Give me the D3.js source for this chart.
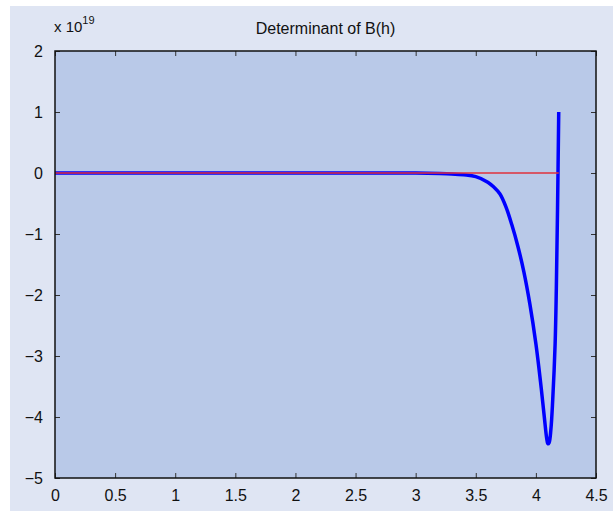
<!DOCTYPE html>
<html>
<head>
<meta charset="utf-8">
<script src="https://cdn.jsdelivr.net/npm/d3@7"></script>
<style>
  body { margin: 0; background: #ffffff; }
  svg { display: block; font-family: "Liberation Sans", Arial, sans-serif; }
</style>
</head>
<body>
<div id="chart"></div>
<script>
// determinant of B(h), values in units of 1e19
var hValues = [0, 0.5, 1.0, 1.5, 2.0, 2.5, 3.0, 3.2, 3.3, 3.4, 3.5, 3.6, 3.65, 3.7, 3.75, 3.8,
               3.85, 3.9, 3.95, 4.0, 4.04, 4.07, 4.09, 4.10, 4.11, 4.125, 4.14, 4.16, 4.17, 4.18, 4.19];
var detValues = [0, 0, 0, 0, 0, 0, -0.002, -0.008, -0.015, -0.03, -0.06, -0.15, -0.23, -0.34, -0.55, -0.85,
                 -1.2, -1.62, -2.15, -2.8, -3.45, -4.0, -4.35, -4.44, -4.42, -4.2, -3.72, -2.8, -1.9, -0.6, 1.0];
var zeroLine = [[0, 0], [4.19, 0]];

var xTicks = [0, 0.5, 1, 1.5, 2, 2.5, 3, 3.5, 4, 4.5];
var yTicks = [-5, -4, -3, -2, -1, 0, 1, 2];
var title = "Determinant of B(h)";

var width = 613, height = 511;
var margin = {top: 51, right: 17, bottom: 33, left: 55};

var svg = d3.select("#chart").append("svg")
    .attr("width", width)
    .attr("height", height);

// figure background
svg.append("rect")
    .attr("x", 10).attr("y", 6)
    .attr("width", width - 10).attr("height", height - 6)
    .attr("fill", "#dfe5f3");

var x = d3.scaleLinear().domain([0, 4.5]).range([margin.left, width - margin.right]);
var y = d3.scaleLinear().domain([-5, 2]).range([height - margin.bottom, margin.top]);

svg.append("rect")
    .attr("x", x(0)).attr("y", y(2))
    .attr("width", x(4.5) - x(0)).attr("height", y(-5) - y(2))
    .attr("fill", "#b9c9e8");

var fmt = function(d) { return d < 0 ? "\u2212" + Math.abs(d) : String(d); };

// axes with inward ticks
var xBottom = svg.append("g").attr("transform", "translate(0," + y(-5) + ")")
    .call(d3.axisBottom(x).tickValues(xTicks).tickSize(-5).tickPadding(12).tickFormat(fmt));
var xTop = svg.append("g").attr("transform", "translate(0," + y(2) + ")")
    .call(d3.axisTop(x).tickValues(xTicks).tickSize(-5).tickFormat(""));
var yLeft = svg.append("g").attr("transform", "translate(" + x(0) + ",0)")
    .call(d3.axisLeft(y).tickValues(yTicks).tickSize(-5).tickPadding(12).tickFormat(fmt));
var yRight = svg.append("g").attr("transform", "translate(" + x(4.5) + ",0)")
    .call(d3.axisRight(y).tickValues(yTicks).tickSize(-5).tickFormat(""));

[xBottom, xTop, yLeft, yRight].forEach(function(a) {
  a.select(".domain").remove();
  a.selectAll(".tick line").attr("stroke", "#333").attr("stroke-width", 1);
  a.selectAll(".tick text").attr("font-size", 16).attr("fill", "#111")
      .attr("font-family", "'Liberation Sans', Arial, sans-serif");
});

// curve
var line = d3.line()
    .x(function(d) { return x(d[0]); })
    .y(function(d) { return y(d[1]); })
    .curve(d3.curveCatmullRom.alpha(0.5));

var pts = hValues.map(function(h, i) { return [h, detValues[i]]; });

svg.append("path")
    .datum(pts)
    .attr("d", line)
    .attr("fill", "none")
    .attr("stroke", "#0000ff")
    .attr("stroke-width", 3.5)
    .attr("stroke-linejoin", "round");

svg.append("path")
    .datum(zeroLine)
    .attr("d", d3.line().x(function(d) { return x(d[0]); }).y(function(d) { return y(d[1]); }))
    .attr("fill", "none")
    .attr("stroke", "#e0303c")
    .attr("stroke-width", 1.3);

// frame
svg.append("rect")
    .attr("x", x(0)).attr("y", y(2))
    .attr("width", x(4.5) - x(0)).attr("height", y(-5) - y(2))
    .attr("fill", "none")
    .attr("stroke", "#111")
    .attr("stroke-width", 1.5);

// title
svg.append("text")
    .attr("x", (x(0) + x(4.5)) / 2)
    .attr("y", 34)
    .attr("text-anchor", "middle")
    .attr("font-size", 16)
    .attr("fill", "#111")
    .text(title);

// exponent label
var expo = svg.append("text")
    .attr("x", 54).attr("y", 32)
    .attr("font-size", 15)
    .attr("fill", "#111");
expo.append("tspan").text("x 10");
expo.append("tspan").attr("dy", -8).attr("font-size", 11).text("19");
</script>
</body>
</html>
